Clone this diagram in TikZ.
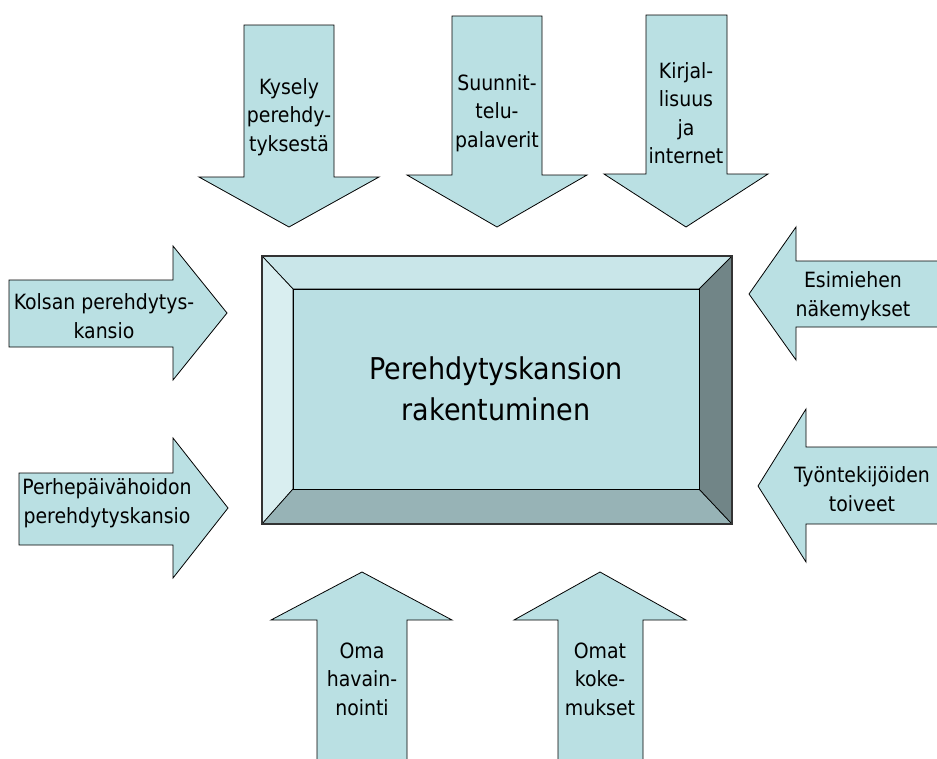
\documentclass[tikz,border=0pt]{standalone}
\usepackage{fontspec}
\setmainfont{DejaVu Sans Condensed}
\definecolor{arrowfill}{HTML}{BAE0E3}
\definecolor{bevtop}{HTML}{C9E6E9}
\definecolor{bevleft}{HTML}{D9EEF0}
\definecolor{bevbottom}{HTML}{97B3B6}
\definecolor{bevright}{HTML}{718587}
\definecolor{facefill}{HTML}{BADFE3}
\tikzset{
  arrowshape/.style={fill=arrowfill, draw=black, line width=0.8pt, line join=miter},
  bevel/.style={draw=black, line width=0.7pt, line join=miter},
  tag/.style={font=\fontsize{21}{28.5}\selectfont, align=center, inner sep=0pt},
}
\begin{document}
\begin{tikzpicture}[x=1pt,y=-1pt]
\useasboundingbox (0,0) rectangle (937,758);
\clip (0,0) rectangle (937,758);

% arrows pointing down from the top
\path[arrowshape] (244,25) -- (334,25) -- (334,177) -- (379,177) -- (289,227) -- (199,177) -- (244,177) -- cycle;
\path[arrowshape] (452,16) -- (542,16) -- (542,175) -- (587,175) -- (497,227) -- (407,175) -- (452,175) -- cycle;
\path[arrowshape] (646,15) -- (727,15) -- (727,174) -- (768,174) -- (686,227) -- (604,174) -- (646,174) -- cycle;

% arrows pointing right from the left side
\path[arrowshape] (9,280) -- (173,280) -- (173,246) -- (227,313) -- (173,380) -- (173,347) -- (9,347) -- cycle;
\path[arrowshape] (19,473) -- (173,473) -- (173,438) -- (228,508) -- (173,578) -- (173,545) -- (19,545) -- cycle;

% arrows pointing left from the right side
\path[arrowshape] (950,261) -- (796,261) -- (796,227) -- (749,294) -- (796,360) -- (796,327) -- (950,327) -- cycle;
\path[arrowshape] (950,447) -- (806,447) -- (806,409) -- (758,486) -- (806,562) -- (806,524) -- (950,524) -- cycle;

% arrows pointing up from the bottom
\path[arrowshape] (317,770) -- (317,620) -- (271,620) -- (362,572) -- (452,620) -- (407,620) -- (407,770) -- cycle;
\path[arrowshape] (558,770) -- (558,620) -- (514,620) -- (600,572) -- (686,620) -- (643,620) -- (643,770) -- cycle;

% bevelled central box
\path[bevel, fill=bevtop]    (262,256) -- (732,256) -- (699,289) -- (293,289) -- cycle;
\path[bevel, fill=bevleft]   (262,256) -- (293,289) -- (293,489) -- (262,524) -- cycle;
\path[bevel, fill=bevbottom] (262,524) -- (293,489) -- (699,489) -- (732,524) -- cycle;
\path[bevel, fill=bevright]  (732,256) -- (732,524) -- (699,489) -- (699,289) -- cycle;
\node[bevel, fill=facefill, minimum width=406pt, minimum height=200pt, inner sep=0pt,
      font=\fontsize{30}{41}\selectfont, align=center] (core) at (496,389)
  {Perehdytyskansion\\rakentuminen};
\draw[draw=black!80, line width=1.2pt] (262,256) rectangle (732,524);

% labels
\node[tag] (kysely) at (289,117) {Kysely\\perehdy-\\tyksestä};
\node[tag] (suunn) at (497,113) {Suunnit-\\telu-\\palaverit};
\node[tag] (kirj) at (686,113) {Kirjal-\\lisuus\\ja\\internet};
\node[tag] (kolsan) at (104,316) {Kolsan perehdytys-\\kansio};
\node[tag] (perhe) at (107,503) {Perhepäivähoidon\\perehdytyskansio};
\node[tag] (esim) at (853,296) {Esimiehen\\näkemykset};
\node[tag] (tyont) at (862,489) {Työntekijöiden\\toiveet};
\node[tag] (oma) at (362,679) {Oma\\havain-\\nointi};
\node[tag] (omat) at (600,679) {Omat\\koke-\\mukset};
\end{tikzpicture}
\end{document}
